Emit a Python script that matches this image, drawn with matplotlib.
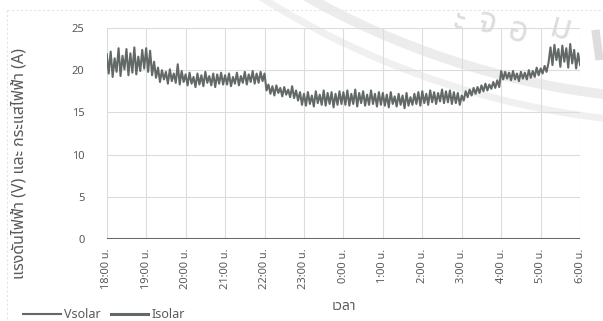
import matplotlib
matplotlib.use("Agg")
import matplotlib.pyplot as plt
import numpy as np
from matplotlib import font_manager
from matplotlib.patches import Circle

# ---- data ----
hour_labels = ["18:00 น.", "19:00 น.", "20:00 น.", "21:00 น.", "22:00 น.", "23:00 น.",
               "0:00 น.", "1:00 น.", "2:00 น.", "3:00 น.", "4:00 น.", "5:00 น.", "6:00 น."]
sample_step_min = 3
vsolar = [
    21.9, 19.6, 22.2, 19.2, 21.4, 19.8, 22.6, 19.3, 21.7, 20.1, 22.5, 19.4, 22.0, 19.7, 22.7, 19.5, 21.6, 19.9, 22.4, 20.2,
    22.6, 19.8, 22.3, 19.4, 21.0, 19.1, 20.3, 18.6, 20.0, 18.9, 19.8, 18.4, 20.1, 18.7, 19.6, 18.5, 20.7, 18.3, 19.9, 18.6,
    19.5, 18.2, 19.7, 18.4, 19.2, 18.0, 19.6, 18.3, 19.4, 18.1, 19.8, 18.5, 19.3, 18.2, 19.6, 18.0, 19.5, 18.4, 19.7, 18.3,
    19.4, 18.3, 19.6, 18.1, 19.2, 18.4, 19.7, 18.2, 19.3, 18.5, 19.8, 18.3, 19.5, 18.6, 19.9, 18.4, 19.6, 18.5, 19.8, 18.7,
    19.6, 17.6, 18.3, 17.2, 18.1, 17.0, 18.2, 17.3, 17.9, 16.9, 18.0, 17.1, 17.7, 16.8, 18.1, 16.7, 17.6, 16.4, 17.4, 15.9,
    17.2, 15.8, 17.4, 16.0, 17.0, 15.7, 17.5, 16.1, 17.1, 15.9, 17.6, 15.8, 17.3, 16.0, 17.4, 15.6, 17.2, 15.9, 17.5, 16.0,
    17.4, 15.9, 17.6, 15.8, 17.2, 16.0, 17.7, 15.7, 17.3, 16.1, 17.5, 15.8, 17.1, 15.9, 17.6, 16.0, 17.2, 15.7, 17.4, 15.9,
    17.3, 15.8, 17.1, 15.6, 17.4, 16.0, 16.9, 15.7, 17.2, 15.9, 17.0, 15.5, 17.3, 15.8, 16.8, 15.9, 17.2, 16.0, 17.4, 15.8,
    17.5, 16.1, 17.2, 15.9, 17.6, 16.2, 17.4, 16.0, 17.3, 16.3, 17.7, 16.1, 17.5, 16.2, 17.6, 16.0, 17.4, 16.1, 17.3, 15.9,
    17.0, 16.4, 17.5, 16.8, 17.7, 17.0, 17.9, 17.2, 18.0, 17.3, 18.2, 17.5, 18.4, 17.6, 18.3, 17.8, 18.6, 17.9, 18.8, 18.0,
    19.9, 18.9, 19.8, 19.0, 19.7, 18.8, 19.9, 18.9, 19.6, 18.7, 19.8, 19.0, 19.7, 18.9, 20.0, 19.1, 19.9, 19.2, 20.3, 19.4,
    20.2, 19.6, 20.5, 19.8, 20.9, 22.7, 20.6, 23.0, 21.2, 22.5, 20.4, 22.9, 21.0, 22.6, 20.3, 23.1, 20.8, 22.4, 20.2, 22.0,
    20.6,
]
isolar_hourly = [0, 0, 0, 0, 0, 0, 0, 0, 0, 0, 0, 0, 0]

names = {f.name for f in font_manager.fontManager.ttflist}
cands = [n for n in ["Noto Sans Thai", "Noto Sans Thai UI", "Loma", "Garuda", "Tlwg Typo",
                     "Sarabun", "Norasi", "Kinnari"] if n in names]
plt.rcParams['font.family'] = cands + ['DejaVu Sans']

W, H = 603, 321
fig = plt.figure(figsize=(W / 100, H / 100), dpi=100)

# background layer (watermark + scan frame), pixel coordinates
bg = fig.add_axes([0, 0, 1, 1], zorder=0)
bg.set_xlim(0, W)
bg.set_ylim(H, 0)
bg.axis("off")
bg.add_patch(Circle((700, -700), 800, fill=False, ec="#ececec", lw=7))
bg.add_patch(Circle((700, -700), 824, fill=False, ec="#f0f0f0", lw=5))
for ch, (px, py) in zip("ะจอม", [(459, 22), (487, 24), (518, 33), (561, 30)]):
    bg.text(px, py, ch, fontsize=25, color="#dddddd", ha="center", va="center", rotation=-15)
bg.plot([596, 599], [34, 56], color="#dddddd", lw=6)
bg.plot([7, 7], [10, H], color="#e4e4e4", lw=0.8, ls=(0, (2, 2)))
bg.plot([7, W], [10, 10], color="#e4e4e4", lw=0.8, ls=(0, (2, 2)))

ax = fig.add_axes([0.177, 0.255, 0.785, 0.658], zorder=1)
ax.patch.set_alpha(0)

t_v = np.arange(len(vsolar)) * sample_step_min / 60.0
t_i = np.arange(len(isolar_hourly))
line_col = "#626966"
lv, = ax.plot(t_v, vsolar, color=line_col, lw=1.5, label="Vsolar")
li, = ax.plot(t_i, isolar_hourly, color=line_col, lw=2.2, label="Isolar")

ax.set_xlim(0, 12)
ax.set_ylim(0, 25)
ax.set_xticks(np.arange(len(hour_labels)))
ax.set_xticklabels(hour_labels, rotation=90, fontsize=8, color="#595959")
ax.set_yticks([0, 5, 10, 15, 20, 25])
ax.tick_params(axis='y', labelsize=8, colors="#595959", length=0, pad=16)
ax.tick_params(axis='x', length=0, pad=7)
ax.grid(True, color="#dcdcdc", lw=0.8)
ax.set_axisbelow(True)
for s in ax.spines.values():
    s.set_visible(False)
ax.set_ylabel("แรงดันไฟฟ้า (V) และ กระแสไฟฟ้า (A)", fontsize=11.5, color="#595959")
ax.yaxis.set_label_coords(-0.167, 0.36)
ax.set_xlabel("เวลา", fontsize=10, color="#595959", labelpad=7)

fig.legend(handles=[lv, li], loc="lower left", bbox_to_anchor=(0.02, -0.035), ncol=2,
           frameon=False, fontsize=9, handlelength=3, columnspacing=0.8, handletextpad=0.25,
           labelcolor="#595959")

fig.savefig("out.png", dpi=100, facecolor="white")
